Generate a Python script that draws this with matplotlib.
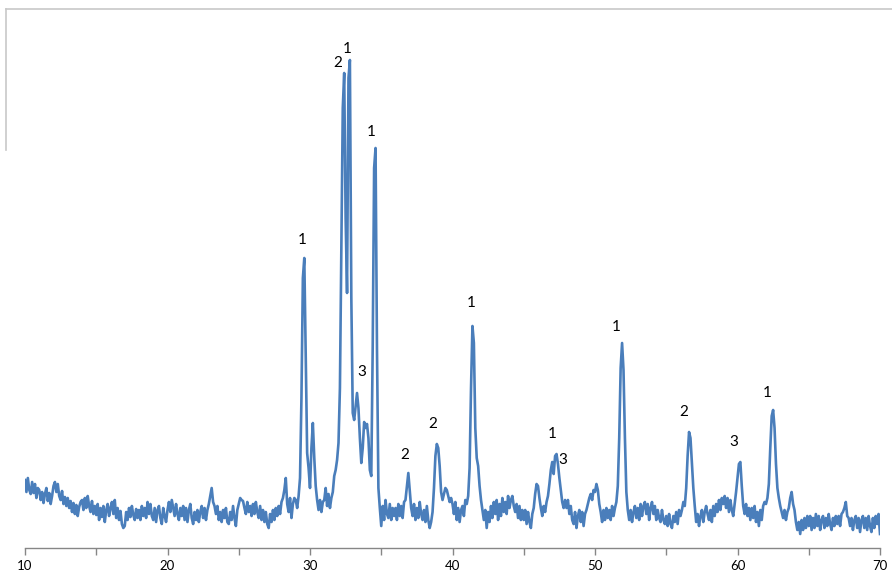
import numpy as np
import matplotlib
matplotlib.use("Agg")
from matplotlib import pyplot as plt
from matplotlib.lines import Line2D

# XRD pattern, intensity in arbitrary units, one list per 10 degrees (step 0.1)
i_10_20 = [68, 56, 70, 58, 54, 66, 55, 64, 50, 60,
           58, 48, 56, 45, 54, 60, 47, 55, 44, 52,
           62, 66, 56, 64, 52, 48, 57, 44, 51, 42,
           50, 40, 47, 36, 45, 34, 43, 32, 41, 46,
           48, 38, 50, 40, 52, 42, 36, 47, 34, 42,
           33, 44, 28, 40, 31, 42, 26, 38, 44, 32,
           40, 46, 34, 48, 30, 40, 28, 37, 24, 20,
           22, 36, 28, 40, 31, 42, 33, 28, 39, 30,
           38, 28, 42, 32, 40, 30, 46, 34, 44, 32,
           28, 40, 26, 38, 42, 30, 24, 40, 32, 26]
i_20_30 = [38, 46, 36, 48, 40, 32, 44, 34, 28, 40,
           32, 42, 28, 40, 26, 38, 44, 30, 24, 36,
           28, 38, 26, 36, 42, 30, 40, 28, 38, 44,
           52, 60, 46, 42, 34, 42, 28, 36, 26, 38,
           30, 40, 26, 24, 36, 28, 42, 30, 22, 38,
           44, 50, 48, 47, 40, 34, 46, 36, 42, 32,
           44, 34, 46, 36, 30, 42, 28, 38, 26, 36,
           24, 20, 34, 26, 38, 28, 40, 32, 42, 34,
           46, 50, 58, 70, 44, 36, 50, 30, 44, 50,
           48, 40, 52, 70, 150, 270, 290, 190, 95, 80]
i_30_40 = [60, 100, 125, 90, 62, 48, 38, 48, 36, 46,
           48, 60, 42, 54, 40, 50, 56, 72, 78, 88,
           105, 160, 300, 440, 475, 330, 255, 470, 488, 250,
           135, 128, 142, 155, 140, 110, 85, 100, 126, 120,
           124, 110, 78, 72, 200, 380, 400, 200, 60, 40,
           22, 42, 28, 48, 34, 30, 44, 28, 40, 32,
           40, 28, 44, 32, 42, 30, 46, 48, 62, 75,
           58, 40, 32, 44, 28, 40, 30, 46, 34, 28,
           38, 26, 42, 28, 20, 26, 36, 60, 92, 104,
           100, 82, 56, 48, 54, 60, 58, 52, 46, 50]
i_40_50 = [44, 34, 46, 28, 40, 26, 38, 42, 32, 48,
           44, 52, 80, 160, 222, 205, 120, 90, 82, 62,
           48, 38, 28, 38, 20, 36, 26, 42, 30, 46,
           34, 48, 28, 44, 32, 50, 36, 46, 34, 52,
           40, 48, 52, 42, 36, 44, 30, 42, 28, 38,
           28, 38, 24, 36, 26, 20, 34, 40, 54, 64,
           62, 50, 40, 32, 42, 36, 46, 52, 64, 78,
           86, 74, 92, 94, 84, 70, 58, 46, 40, 48,
           40, 48, 34, 42, 28, 24, 36, 20, 32, 38,
           26, 36, 22, 34, 38, 44, 50, 54, 48, 58]
i_50_60 = [56, 64, 58, 44, 36, 26, 38, 28, 40, 30,
           38, 28, 42, 32, 40, 46, 62, 110, 180, 205,
           178, 110, 56, 38, 28, 38, 26, 36, 42, 30,
           40, 28, 44, 32, 42, 46, 34, 44, 28, 40,
           46, 34, 42, 28, 38, 30, 26, 38, 28, 24,
           32, 22, 34, 24, 20, 32, 26, 36, 24, 38,
           32, 38, 46, 42, 60, 92, 116, 110, 84, 60,
           42, 26, 34, 22, 32, 38, 26, 36, 42, 34,
           28, 38, 26, 42, 32, 44, 36, 48, 38, 50,
           44, 52, 40, 50, 36, 48, 38, 32, 44, 56]
i_60_70 = [70, 84, 86, 62, 42, 34, 44, 32, 40, 28,
           40, 30, 42, 26, 36, 22, 38, 28, 42, 46,
           44, 50, 64, 100, 132, 138, 120, 84, 60, 50,
           42, 36, 30, 38, 28, 36, 40, 50, 56, 44,
           38, 26, 18, 26, 14, 28, 18, 30, 20, 32,
           22, 32, 18, 30, 20, 34, 22, 32, 18, 28,
           32, 20, 30, 22, 34, 24, 18, 30, 22, 32,
           24, 32, 22, 34, 36, 40, 46, 32, 30, 22,
           30, 18, 28, 32, 20, 30, 16, 28, 32, 20,
           30, 18, 32, 22, 16, 30, 20, 32, 24, 34,
           14]

intensity = np.array(i_10_20 + i_20_30 + i_30_40 + i_40_50 + i_50_60 + i_60_70, dtype=float)
two_theta = 10 + 0.1 * np.arange(len(intensity))

# phase labels above the peaks
peak_pos = [29.6, 32.4, 32.8, 33.3, 34.6, 36.9, 38.9, 41.4, 47.3, 47.4, 51.9, 56.6, 60.2, 62.5]
peak_lbl = ["1", "2", "1", "3", "1", "2", "2", "1", "1", "3", "1", "2", "3", "1"]
lbl_dx = [-2, -6, -3, 5, -4, -4, -4, -1, -4, 5, -6, -5, -7, -6]   # pixels
lbl_dy = [18, 10, 11, 21, 16, 18, 20, 23, 20, 4, 16, 20, 20, 17]  # pixels

fig = plt.figure(figsize=(8.92, 5.74), dpi=100)
ax = fig.add_axes([25 / 892, 26 / 574, 855 / 892, 528 / 574])

ax.plot(two_theta, intensity, color="#4A7EBB", linewidth=1.9)

for p, t, dx, dy in zip(peak_pos, peak_lbl, lbl_dx, lbl_dy):
    h = np.interp(p, two_theta, intensity)
    ax.annotate(t, xy=(p, h), xytext=(dx * 0.72, dy * 0.72), textcoords="offset points",
                ha="center", va="center", fontsize=11, family="Lato", color="black")

ax.set_xlim(10, 70)
ax.set_ylim(0, 528)
ax.set_xticks(np.arange(10, 71, 10))
ax.set_xticks(np.arange(15, 70, 10), minor=True)
ax.tick_params(axis="x", which="both", direction="out", length=5, width=1, color="#868686",
               labelsize=9.5, pad=4)
for lab in ax.get_xticklabels():
    lab.set_family("Lato")
ax.set_yticks([])
for s in ["top", "right", "left"]:
    ax.spines[s].set_visible(False)
ax.spines["bottom"].set_color("#868686")
ax.spines["bottom"].set_linewidth(1)

# chart area border (top and left edges visible in the crop)
fig.add_artist(Line2D([6 / 892, 1], [1 - 9 / 574, 1 - 9 / 574], color="#C8C8C8", linewidth=1.2))
fig.add_artist(Line2D([6 / 892, 6 / 892], [1 - 9 / 574, 1 - 150 / 574], color="#C8C8C8", linewidth=1.2))

fig.savefig("out.png", dpi=100)
